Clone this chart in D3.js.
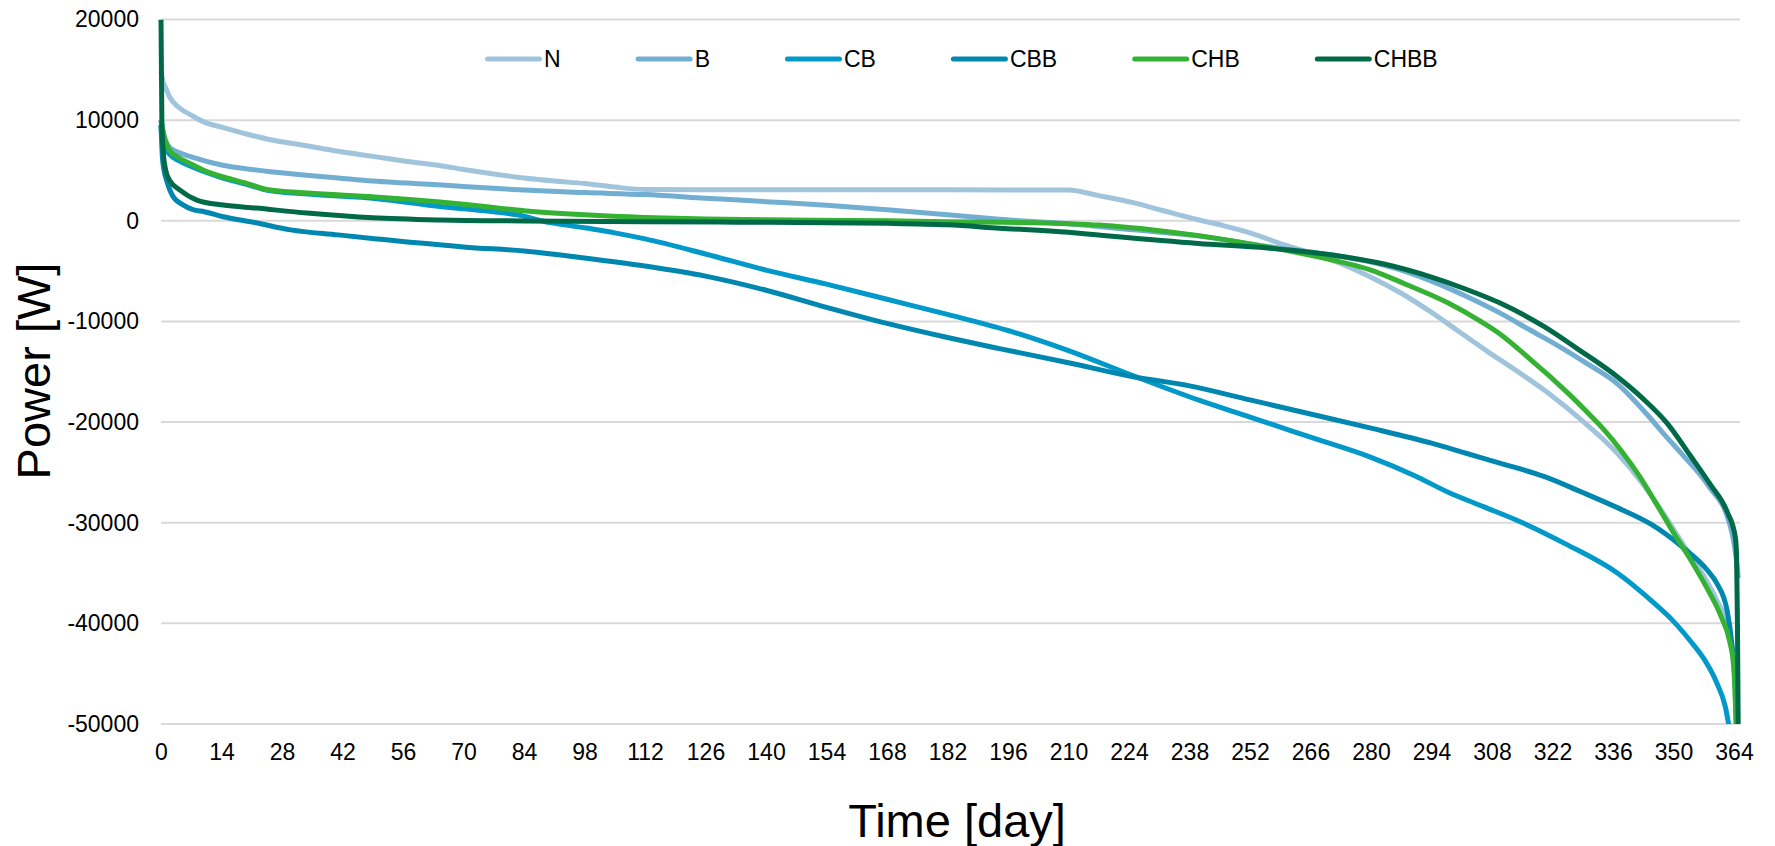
<!DOCTYPE html>
<html>
<head>
<meta charset="utf-8">
<script src="https://cdn.jsdelivr.net/npm/d3@7/dist/d3.min.js"></script>
<style>
  body { margin: 0; background: #fff; }
  text { font-family: "Liberation Sans", Arial, sans-serif; fill: #000; }
</style>
</head>
<body>
<svg width="1775" height="846"></svg>
<script>
// duration curves, [day, power W]
const N = [[0,14800],[0.5,13800],[1,13300],[2,12300],[4,11300],[7,10500],[10,9800],[14,9300],[20,8600],[26,8000],[33,7500],[41,6900],[49,6400],[57,5900],[65,5450],[70,5100],[77,4650],[84,4250],[91,3950],[98,3700],[105,3350],[112,3100],[140,3080],[168,3080],[196,3070],[210,3050],[217,2500],[225,1800],[232,1000],[240,100],[246,-500],[252,-1200],[260,-2400],[266,-3200],[271,-3900],[280,-5600],[287,-7200],[294,-9100],[300,-10900],[307,-13000],[314,-15000],[321,-17100],[329,-19900],[337,-23100],[343,-26200],[348,-29300],[352,-32000],[357,-35300],[360,-37700],[363,-41000],[364,-45000],[365,-55000]];
const B = [[0,10000],[0.3,9000],[1,8000],[2,7300],[4,6800],[7,6350],[14,5550],[20,5150],[26,4850],[33,4550],[41,4250],[49,3950],[57,3750],[65,3550],[70,3400],[84,3050],[98,2800],[112,2600],[126,2250],[140,1900],[154,1550],[168,1100],[182,600],[194,150],[210,-300],[225,-900],[240,-1500],[256,-2550],[271,-3400],[280,-4100],[287,-4900],[294,-6000],[302,-7500],[310,-9200],[317,-10900],[324,-12600],[330,-14200],[337,-16200],[344,-19300],[348,-21300],[352,-23200],[358,-26300],[363,-30100],[364.5,-33500],[365,-35500]];
const CB = [[0,9500],[0.3,8000],[1,7200],[2,6600],[4,6000],[7,5400],[14,4300],[20,3600],[25,3000],[34,2650],[50,2200],[65,1400],[70,1200],[77,900],[84,450],[88,0],[98,-700],[105,-1200],[112,-1800],[126,-3300],[140,-4900],[154,-6300],[168,-7800],[182,-9300],[196,-10900],[210,-12900],[225,-15400],[240,-17800],[252,-19500],[266,-21500],[280,-23500],[290,-25300],[298,-27000],[306,-28400],[314,-29800],[325,-32100],[337,-35000],[345,-37800],[350,-39800],[354,-41800],[357,-43500],[360,-45900],[362,-48300],[363.5,-52000]];
const CBB = [[0,9500],[0.3,6500],[0.7,5000],[1.3,4000],[2.8,2400],[5,1600],[7.4,1100],[10,900],[14.4,400],[22,-200],[30,-900],[41,-1400],[50,-1800],[57,-2100],[65,-2400],[70,-2600],[84,-3000],[98,-3700],[112,-4500],[126,-5500],[140,-6900],[154,-8600],[168,-10200],[182,-11600],[194,-12700],[210,-14100],[225,-15500],[238,-16400],[252,-17800],[266,-19200],[280,-20600],[294,-22100],[302,-23100],[310,-24100],[320,-25400],[329,-27000],[337,-28500],[344.6,-30100],[352,-32400],[357.8,-34700],[360,-36000],[362.4,-38700],[363.5,-42000],[364.3,-46000],[364.8,-52000]];
const CHB = [[0,10000],[0.3,9300],[1,8000],[2,7000],[4,6300],[6.7,5700],[10,5000],[14.4,4350],[20,3700],[24.5,3100],[34,2750],[49.5,2360],[64.6,1860],[70,1650],[84,1000],[98,600],[112,330],[126,170],[140,100],[168,0],[182,-100],[194,-150],[210,-300],[217,-430],[233,-1100],[245,-1800],[256,-2600],[271,-3900],[280,-4900],[288,-6300],[298,-8200],[305,-9900],[310,-11300],[314,-12700],[318,-14200],[322,-15700],[326,-17300],[330,-19000],[334,-20800],[338,-22900],[342,-25300],[346,-28100],[350,-31000],[354,-33700],[358,-36700],[361,-39300],[363,-41800],[364,-44500],[364.6,-52000]];
const CHBB = [[0,20000],[0.2,10000],[0.5,7000],[1,5200],[2,4000],[4.4,3050],[8.3,2060],[14.4,1560],[22,1260],[33.8,770],[49,300],[64.6,80],[84,-20],[112,-100],[140,-150],[168,-250],[182,-400],[194,-730],[210,-1150],[217,-1420],[240,-2250],[256,-2700],[271,-3400],[283,-4300],[294,-5600],[302,-6800],[310,-8200],[320,-10500],[327.7,-12700],[337,-15500],[343,-17700],[348.5,-20100],[354,-23400],[358.5,-26200],[362.4,-28900],[364.3,-31400],[364.6,-33400],[364.8,-40000],[365,-52000]];

const seriesNames = ["N", "B", "CB", "CBB", "CHB", "CHBB"];
const seriesData = [N, B, CB, CBB, CHB, CHBB];
const colors = ["#a0c4dc", "#72aed2", "#0099c9", "#0087b0", "#35b234", "#006a48"];
const xTicks = d3.range(0, 365, 14);
const yTicks = [20000, 10000, 0, -10000, -20000, -30000, -40000, -50000];

const svg = d3.select("svg");
const plotLeft = 161, plotRight = 1740, plotTop = 19.5, plotBottom = 724;

const x = d3.scaleLinear().domain([0, 364]).range([plotLeft, 1734]);
const y = d3.scaleLinear().domain([-50000, 20000]).range([plotBottom, plotTop]);

// gridlines
svg.append("g")
  .selectAll("line")
  .data(yTicks)
  .enter().append("line")
  .attr("x1", plotLeft).attr("x2", plotRight)
  .attr("y1", d => y(d)).attr("y2", d => y(d))
  .attr("stroke", "#d9d9d9")
  .attr("stroke-width", 2);

// y axis labels (plain hyphen for negatives)
let yAxis = svg.append("g")
  .attr("transform", `translate(${plotLeft - 22},0)`)
  .call(d3.axisLeft(y).tickValues(yTicks).tickSize(0).tickPadding(0).tickFormat(d => String(d)));
yAxis.select(".domain").remove();
yAxis.selectAll("text").attr("font-size", 23).attr("fill", "#000")
  .style("font-family", "'Liberation Sans', Arial, sans-serif");

// x axis labels
let xAxis = svg.append("g")
  .attr("transform", `translate(0,${plotBottom + 20})`)
  .call(d3.axisBottom(x).tickValues(xTicks).tickSize(0).tickPadding(0));
xAxis.select(".domain").remove();
xAxis.selectAll("text").attr("font-size", 23).attr("fill", "#000")
  .style("font-family", "'Liberation Sans', Arial, sans-serif");

svg.append("clipPath").attr("id", "plot")
  .append("rect")
  .attr("x", plotLeft - 5).attr("y", plotTop)
  .attr("width", plotRight - plotLeft + 20).attr("height", plotBottom - plotTop);

let line = d3.line()
  .x(d => x(d[0]))
  .y(d => y(d[1]))
  .curve(d3.curveMonotoneX);

svg.append("g")
  .attr("clip-path", "url(#plot)")
  .selectAll("path")
  .data(seriesData)
  .enter().append("path")
  .attr("d", line)
  .attr("fill", "none")
  .attr("stroke", (d, i) => colors[i])
  .attr("stroke-width", 5)
  .attr("stroke-linejoin", "round");

// legend
let legend = svg.append("g").attr("transform", "translate(485,59)");
let lx = 0;
seriesNames.forEach((name, i) => {
  let g = legend.append("g").attr("transform", `translate(${lx},0)`);
  g.append("line")
    .attr("x1", 2.5).attr("x2", 54.5)
    .attr("stroke", colors[i])
    .attr("stroke-width", 5)
    .attr("stroke-linecap", "round");
  let t = g.append("text")
    .attr("x", 59).attr("dy", "0.35em")
    .attr("font-size", 23)
    .text(name);
  lx += 59 + t.node().getComputedTextLength() + 75;
});

// axis titles
svg.append("text")
  .attr("transform", "translate(50,371) rotate(-90)")
  .attr("text-anchor", "middle")
  .attr("font-size", 47)
  .text("Power [W]");

svg.append("text")
  .attr("x", 957).attr("y", 837)
  .attr("text-anchor", "middle")
  .attr("font-size", 47)
  .text("Time [day]");
</script>
</body>
</html>
